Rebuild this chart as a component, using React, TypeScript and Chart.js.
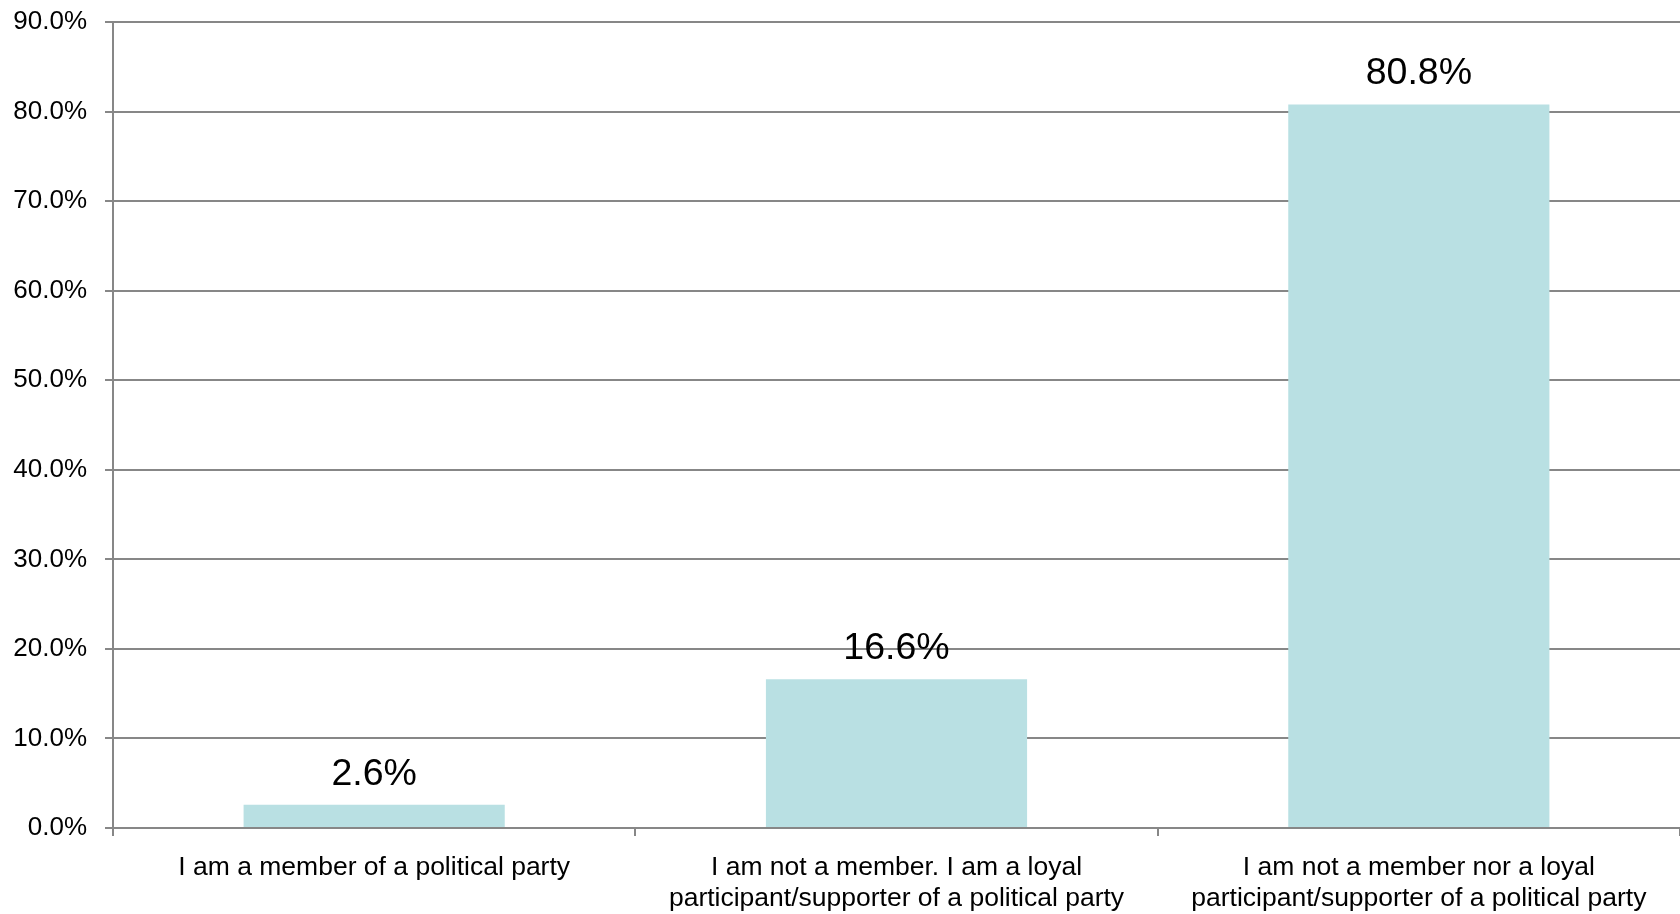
import React, { useEffect, useRef } from "react";
import { Chart, registerables } from "chart.js";

Chart.register(...registerables);

const categories: string[][] = [
  ["I am a member of a political party"],
  ["I am not a member. I am a loyal", "participant/supporter of a political party"],
  ["I am not a member nor a loyal", "participant/supporter of a political party"],
];
const values: number[] = [2.6, 16.6, 80.8];
const yMin = 0;
const yMax = 90;
const yStep = 10;

const FONT = '"Liberation Sans", Arial, Helvetica, sans-serif';
const GRID = "#878787";
const BAR = "#B9E0E3";

const dataLabels = {
  id: "dataLabels",
  afterDatasetsDraw(chart: any) {
    const ctx = chart.ctx;
    const meta = chart.getDatasetMeta(0);
    ctx.save();
    ctx.font = `37.5px ${FONT}`;
    ctx.fillStyle = "#000";
    ctx.textAlign = "center";
    ctx.textBaseline = "alphabetic";
    meta.data.forEach((el: any, i: number) => {
      ctx.fillText(values[i].toFixed(1) + "%", el.x, el.y - 20);
    });
    ctx.restore();
  },
};

export default function App() {
  const ref = useRef<HTMLCanvasElement | null>(null);
  useEffect(() => {
    if (!ref.current) return;
    const chart = new Chart(ref.current, {
      type: "bar",
      data: {
        labels: categories as any,
        datasets: [
          {
            data: values,
            backgroundColor: BAR,
            borderWidth: 0,
            categoryPercentage: 1,
            barPercentage: 0.5,
          },
        ],
      },
      options: {
        animation: false,
        responsive: false,
        devicePixelRatio: 1,
        layout: { padding: { top: 22, left: 0, right: 0, bottom: 0 } },
        plugins: { legend: { display: false }, tooltip: { enabled: false } },
        scales: {
          x: {
            offset: true,
            grid: {
              offset: true,
              drawOnChartArea: false,
              drawTicks: true,
              tickLength: 8,
              color: GRID,
              lineWidth: 2,
            },
            border: { display: true, color: GRID, width: 2 },
            ticks: {
              color: "#000",
              font: { family: FONT, size: 26.5, lineHeight: 1.17 },
              padding: 16,
              maxRotation: 0,
              autoSkip: false,
            },
            afterFit: (s: any) => {
              s.height = 86;
              s.paddingLeft = 0;
              s.paddingRight = 0;
            },
          },
          y: {
            min: yMin,
            max: yMax,
            grid: {
              color: GRID,
              lineWidth: 2,
              drawTicks: true,
              tickLength: 8,
            },
            border: { display: true, color: GRID, width: 2 },
            ticks: {
              stepSize: yStep,
              color: "#000",
              font: { family: FONT, size: 26 },
              padding: 18,
              callback: (v: any) => Number(v).toFixed(1) + "%",
            },
            afterFit: (s: any) => {
              s.width = 113;
              s.paddingTop = 0;
              s.paddingBottom = 0;
            },
          },
        },
      },
      plugins: [dataLabels],
    });
    return () => chart.destroy();
  }, []);
  return (
    <div style={{ position: "absolute", left: 0, top: 0, width: 1680, height: 914, background: "#fff" }}>
      <canvas ref={ref} width={1680} height={914} style={{ display: "block" }} />
    </div>
  );
}
